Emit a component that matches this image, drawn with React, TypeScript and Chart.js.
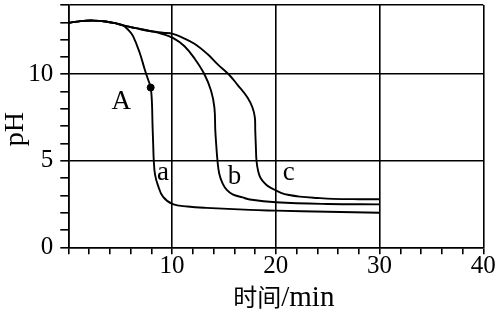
import { useEffect, useRef } from "react";
import { Chart, registerables } from "chart.js";

Chart.register(...registerables);

// Curve a
const aTime = [0, 1.2, 2.4, 3.6, 4.5, 5.28, 5.8, 6.24, 6.88, 7.36, 7.68, 7.94, 8.06, 8.12, 8.18, 8.24, 8.36, 8.64, 9.14, 10.07, 11.5, 13.3, 17.5, 20, 25, 30];
const aPH = [12.97, 13.07, 13.1, 13.05, 12.95, 12.82, 12.55, 12.2, 11.24, 10.29, 9.71, 9.23, 8.37, 7.03, 6.0, 5.0, 4.2, 3.58, 2.91, 2.49, 2.36, 2.28, 2.16, 2.12, 2.05, 2.0];

// Curve b
const bTime = [0, 1.2, 2.4, 3.6, 4.5, 5.28, 6.5, 7.84, 9.0, 10.08, 11.2, 12.2, 13.12, 13.76, 14.08, 14.17, 14.25, 14.38, 14.55, 14.88, 15.3, 15.84, 16.8, 17.5, 20, 25, 30];
const bPH = [12.97, 13.07, 13.1, 13.05, 12.95, 12.82, 12.66, 12.5, 12.34, 12.1, 11.62, 10.88, 10.0, 9.04, 8.08, 6.74, 6.0, 5.0, 4.25, 3.68, 3.3, 3.06, 2.88, 2.76, 2.6, 2.5, 2.48];

// Curve c
const cTime = [0, 1.2, 2.4, 3.6, 4.5, 5.28, 6.5, 7.84, 9.12, 10.08, 11.0, 12.16, 13.44, 14.4, 15.45, 16.31, 17.27, 17.75, 17.98, 18.02, 18.08, 18.14, 18.3, 18.56, 19.1, 19.68, 20.5, 21.3, 22.3, 24, 25.5, 28, 30];
const cPH = [12.97, 13.07, 13.1, 13.05, 12.95, 12.82, 12.66, 12.5, 12.4, 12.33, 12.12, 11.76, 11.15, 10.57, 10.0, 9.39, 8.66, 8.08, 7.51, 6.74, 5.8, 5.0, 4.4, 3.97, 3.6, 3.39, 3.15, 3.02, 2.93, 2.85, 2.8, 2.78, 2.78];

// Point A
const pointATime = [7.94];
const pointAPH = [9.23];

// Text labels on the plot
const labelTexts = ["A", "a", "b", "c"];
const labelTime = [4.17, 8.56, 15.38, 20.67];
const labelPH = [7.99, 3.87, 3.64, 3.87];

// Axis ticks / titles
const xTickLabels = [10, 20, 30, 40];
const yTickLabels = [0, 5, 10];
const xTitle = ["时间", "/min"];
const yTitle = "pH";

const serif = '"Liberation Serif", "Times New Roman", serif';

export default function App() {
  const ref = useRef<HTMLCanvasElement>(null);

  useEffect(() => {
    if (!ref.current) return;
    const toPts = (t: number[], p: number[]) => t.map((x, i) => ({ x, y: p[i] }));

    const textPlugin = {
      id: "texts",
      afterDatasetsDraw(chart: any) {
        const { ctx } = chart;
        const xs = chart.scales.x;
        const ys = chart.scales.y;
        const area = chart.chartArea;
        ctx.save();
        ctx.fillStyle = "#000";
        ctx.font = `27px ${serif}`;
        ctx.textAlign = "left";
        ctx.textBaseline = "alphabetic";
        labelTexts.forEach((s, i) => {
          ctx.fillText(s, xs.getPixelForValue(labelTime[i]), ys.getPixelForValue(labelPH[i]));
        });
        // y title
        ctx.save();
        ctx.translate(16, (area.top + area.bottom) / 2 + 3);
        ctx.rotate(-Math.PI / 2);
        ctx.font = `28px ${serif}`;
        ctx.textAlign = "center";
        ctx.textBaseline = "middle";
        ctx.fillText(yTitle, 0, 0);
        ctx.restore();
        // x title
        const cjk = `24px "Noto Sans CJK SC", sans-serif`;
        const lat = `29px ${serif}`;
        ctx.font = cjk;
        const w1 = ctx.measureText(xTitle[0]).width;
        ctx.font = lat;
        const w2 = ctx.measureText(xTitle[1]).width;
        const cx = (area.left + area.right) / 2 + 8;
        const sx = cx - (w1 + w2) / 2;
        const by = chart.height - 7;
        ctx.textAlign = "left";
        ctx.textBaseline = "alphabetic";
        ctx.font = cjk;
        ctx.fillText(xTitle[0], sx, by);
        ctx.font = lat;
        ctx.fillText(xTitle[1], sx + w1, by);
        ctx.restore();
      },
    };

    const line = (t: number[], p: number[]) => ({
      data: toPts(t, p),
      showLine: true,
      borderColor: "#000",
      borderWidth: 1.9,
      pointRadius: 0,
      tension: 0.4,
      fill: false,
    });

    const tickFont = { family: serif, size: 25, lineHeight: 1 };

    const chart = new Chart(ref.current, {
      type: "scatter",
      data: {
        datasets: [
          line(aTime, aPH),
          line(bTime, bPH),
          line(cTime, cPH),
          {
            data: toPts(pointATime, pointAPH),
            showLine: false,
            pointRadius: 3.5,
            backgroundColor: "#000",
            borderColor: "#000",
          } as any,
        ],
      },
      options: {
        animation: false,
        responsive: false,
        events: [],
        layout: { padding: { top: 3.7, right: 15.7, left: 0, bottom: 0 } },
        plugins: { legend: { display: false }, tooltip: { enabled: false } },
        scales: {
          x: {
            type: "linear",
            min: 0,
            max: 40,
            afterFit(s: any) {
              s.height = 65.7;
              s.paddingLeft = 0;
              s.paddingRight = 0;
            },
            ticks: {
              stepSize: 2,
              autoSkip: false,
              maxRotation: 0,
              minRotation: 0,
              padding: 0,
              color: "#000",
              font: tickFont,
              callback: (v: any) => (xTickLabels.includes(Number(v)) ? String(v) : ""),
            },
            grid: {
              color: (c: any) =>
                c.tick && (xTickLabels.includes(c.tick.value) || c.tick.value === 0) ? "#000" : "rgba(0,0,0,0)",
              tickColor: "#000",
              tickLength: 7,
              lineWidth: 1.6,
            },
            border: { color: "#000", width: 1.6 },
          },
          y: {
            type: "linear",
            min: 0,
            max: 14,
            afterFit(s: any) {
              s.width = 68.3;
              s.paddingTop = 0;
              s.paddingBottom = 0;
            },
            ticks: {
              stepSize: 1,
              autoSkip: false,
              padding: 7,
              color: "#000",
              font: tickFont,
              callback: (v: any) => (yTickLabels.includes(Number(v)) ? String(v) : ""),
            },
            grid: {
              color: (c: any) =>
                c.tick && (yTickLabels.includes(c.tick.value) || c.tick.value === 14) ? "#000" : "rgba(0,0,0,0)",
              tickColor: "#000",
              tickLength: 8,
              lineWidth: 1.6,
            },
            border: { color: "#000", width: 1.6 },
          },
        },
      },
      plugins: [textPlugin],
    });

    return () => chart.destroy();
  }, []);

  return (
    <div style={{ position: "absolute", left: 0, top: 0, width: 499, height: 313, background: "#fff" }}>
      <canvas ref={ref} width={499} height={313} style={{ display: "block" }} />
    </div>
  );
}
